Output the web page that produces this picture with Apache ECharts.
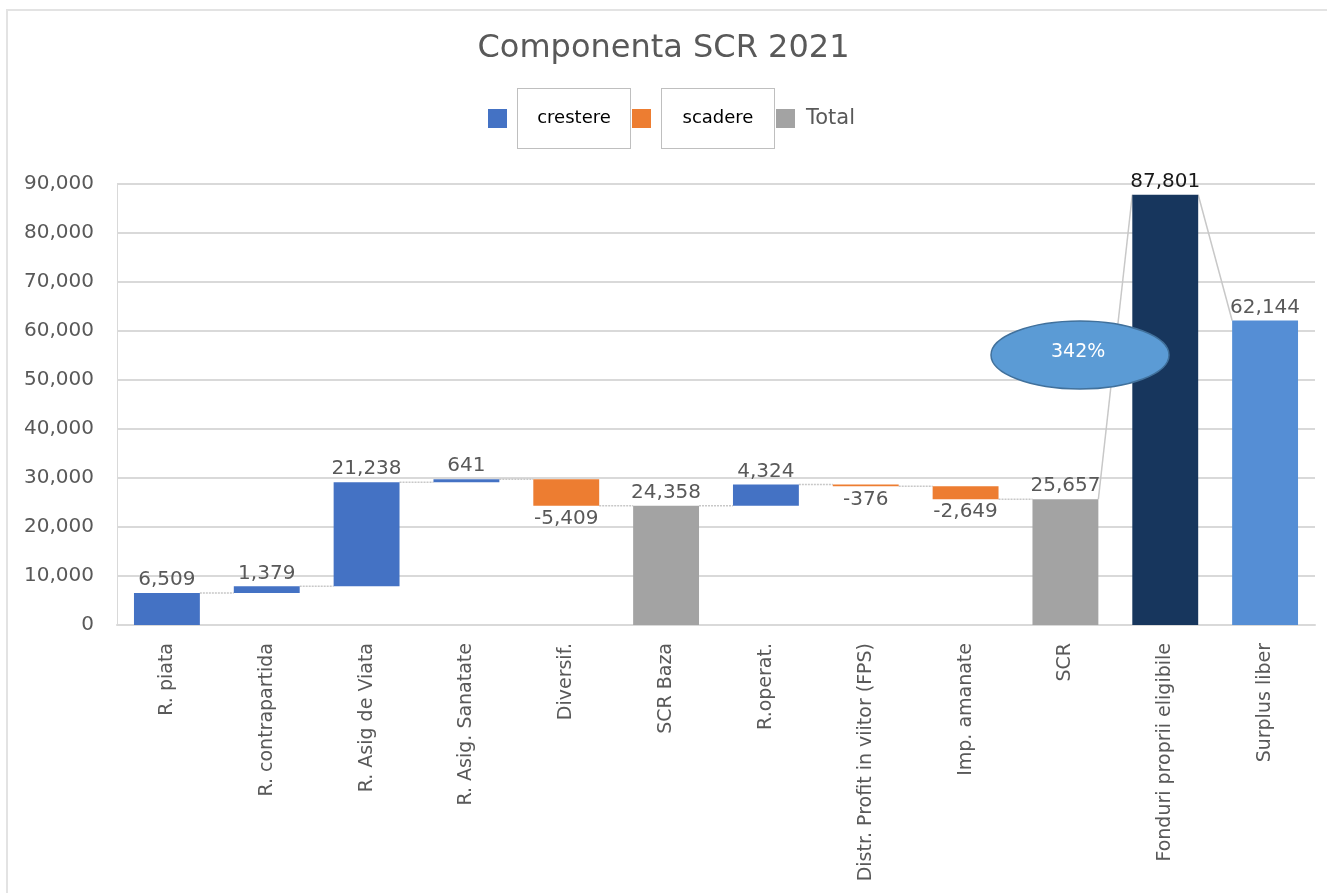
<!DOCTYPE html>
<html>
<head>
<meta charset="utf-8">
<script src="https://cdn.jsdelivr.net/npm/echarts@6/dist/echarts.min.js"></script>
<style>
  html, body { margin: 0; padding: 0; background: #fff; }
  #frame { position: absolute; left: 6px; top: 9px; width: 1330px; height: 900px;
           border-left: 2px solid #e3e3e3; border-top: 2px solid #e3e3e3; }
  #chart { position: absolute; left: 0; top: 0; width: 1327px; height: 893px; }
</style>
</head>
<body>
<div id="frame"></div>
<div id="chart"></div>
<script>
// Waterfall components of the solvency capital requirement
const categories = [
  'R. piata', 'R. contrapartida', 'R. Asig de Viata', 'R. Asig. Sanatate',
  'Diversif.', 'SCR Baza', 'R.operat.', 'Distr. Profit in viitor (FPS)',
  'Imp. amanate', 'SCR', 'Fonduri proprii eligibile', 'Surplus liber'
];
const values = [6509, 1379, 21238, 641, -5409, 24358, 4324, -376, -2649, 25657, 87801, 62144];
// up = increase, down = decrease, total = subtotal from zero, own / surplus = own funds bars
const kinds = ['up', 'up', 'up', 'up', 'down', 'total', 'up', 'down', 'down', 'total', 'own', 'surplus'];
const yTicks = [0, 10000, 20000, 30000, 40000, 50000, 60000, 70000, 80000, 90000];
const ratioLabel = '342%';

const FONT = 'DejaVu Sans';
const GREY_TXT = '#595959';
const fmt = v => Math.round(v).toLocaleString('en-US');

// Build floating segments: low / high end of every bar
const lows = [], highs = [], startLv = [], endLv = [];
let running = 0;
values.forEach((v, i) => {
  const k = kinds[i];
  if (k === 'up' || k === 'down') {
    const a = running, b = running + v;
    lows.push(Math.min(a, b)); highs.push(Math.max(a, b));
    startLv.push(a); endLv.push(b);
    running = b;
  } else {
    lows.push(0); highs.push(v);
    startLv.push(v); endLv.push(v);
    if (k === 'total') running = v;
  }
});

const base = lows.map(l => l);
const pick = pred => values.map((v, i) => pred(kinds[i]) ? highs[i] - lows[i] : '-');

const labelFor = (pos, color) => ({
  show: true,
  position: pos,
  distance: 3,
  fontFamily: FONT,
  fontSize: 20,
  color: color || GREY_TXT,
  formatter: p => fmt(values[p.dataIndex])
});

// connector segments between neighbouring bars
const links = [];
for (let i = 0; i < values.length - 1; i++) {
  links.push([i, endLv[i], startLv[i + 1], (kinds[i + 1] === 'own' || kinds[i + 1] === 'surplus') ? 1 : 0]);
}

const totalData = values.map((v, i) => {
  const k = kinds[i];
  if (k === 'total') return highs[i];
  if (k === 'own') return { value: highs[i], itemStyle: { color: '#17365d' },
                            label: { color: '#1a1a1a' } };
  if (k === 'surplus') return { value: highs[i], itemStyle: { color: '#558ed5' } };
  return '-';
});

const chart = echarts.init(document.getElementById('chart'), null, { renderer: 'canvas' });
chart.setOption({
  animation: false,
  backgroundColor: 'transparent',
  title: {
    text: 'Componenta SCR 2021',
    left: 'center',
    top: 28,
    textStyle: { fontFamily: FONT, fontSize: 32, fontWeight: 'normal', color: GREY_TXT }
  },
  legend: {
    top: 83,
    left: 483,
    itemGap: 1,
    itemWidth: 19,
    itemHeight: 19,
    icon: 'rect',
    data: ['crestere', 'scadere', 'Total'],
    formatter: name => name === 'Total' ? '{s|}{t|Total}' : '{s|}{b|' + name + '}',
    textStyle: {
      rich: {
        s: { width: 6 },
        b: { width: 112, height: 59, align: 'center', verticalAlign: 'middle',
             borderColor: '#bfbfbf', borderWidth: 1, backgroundColor: '#fff',
             fontFamily: FONT, fontSize: 18, color: '#000' },
        t: { fontFamily: FONT, fontSize: 21, color: GREY_TXT }
      }
    }
  },
  grid: { left: 117, right: 12, top: 184, bottom: 268, containLabel: false },
  xAxis: {
    type: 'category',
    data: categories,
    axisTick: { show: false },
    axisLine: { lineStyle: { color: '#d9d9d9', width: 2 } },
    axisLabel: { rotate: 90, margin: 18, interval: 0, fontFamily: FONT, fontSize: 19, color: GREY_TXT }
  },
  yAxis: {
    type: 'value',
    min: yTicks[0],
    max: yTicks[yTicks.length - 1],
    interval: yTicks[1] - yTicks[0],
    axisLine: { show: true, lineStyle: { color: '#d9d9d9', width: 1 } },
    axisTick: { show: false },
    splitLine: { lineStyle: { color: '#d9d9d9', width: 2 } },
    axisLabel: { fontFamily: FONT, fontSize: 20, color: GREY_TXT, margin: 23,
                 formatter: v => fmt(v) }
  },
  series: [
    {
      name: 'base', type: 'bar', stack: 'w', barWidth: '66%', silent: true,
      itemStyle: { color: 'transparent' }, data: base
    },
    {
      name: 'crestere', type: 'bar', stack: 'w', barWidth: '66%',
      itemStyle: { color: '#4472c4' },
      label: labelFor('top'),
      data: pick(k => k === 'up')
    },
    {
      name: 'scadere', type: 'bar', stack: 'w', barWidth: '66%',
      itemStyle: { color: '#ed7d31' },
      label: labelFor('bottom'),
      data: pick(k => k === 'down')
    },
    {
      name: 'Total', type: 'bar', stack: 'w', barWidth: '66%',
      itemStyle: { color: '#a3a3a3' },
      label: labelFor('top'),
      data: totalData
    },
    {
      name: 'links', type: 'custom', silent: true, z: 1,
      data: links,
      renderItem: (params, api) => {
        const i = api.value(0);
        const half = api.size([1, 0])[0] * 0.33;
        const p1 = api.coord([i, api.value(1)]);
        const p2 = api.coord([i + 1, api.value(2)]);
        const solid = api.value(3) === 1;
        return {
          type: 'line',
          shape: { x1: p1[0] + half, y1: p1[1], x2: p2[0] - half, y2: p2[1] },
          style: { stroke: '#c8c8c8', lineWidth: 1.5, lineDash: solid ? null : [2, 1] }
        };
      }
    }
  ],
  graphic: [
    {
      type: 'ellipse', z: 100,
      shape: { cx: 1080, cy: 355, rx: 89, ry: 34 },
      style: { fill: '#5b9bd5', stroke: '#41719c', lineWidth: 1.5 }
    },
    {
      type: 'text', z: 101, left: 1051, top: 343,
      style: { text: ratioLabel, fill: '#fff', fontFamily: FONT, fontSize: 19 }
    }
  ]
});
</script>
</body>
</html>
